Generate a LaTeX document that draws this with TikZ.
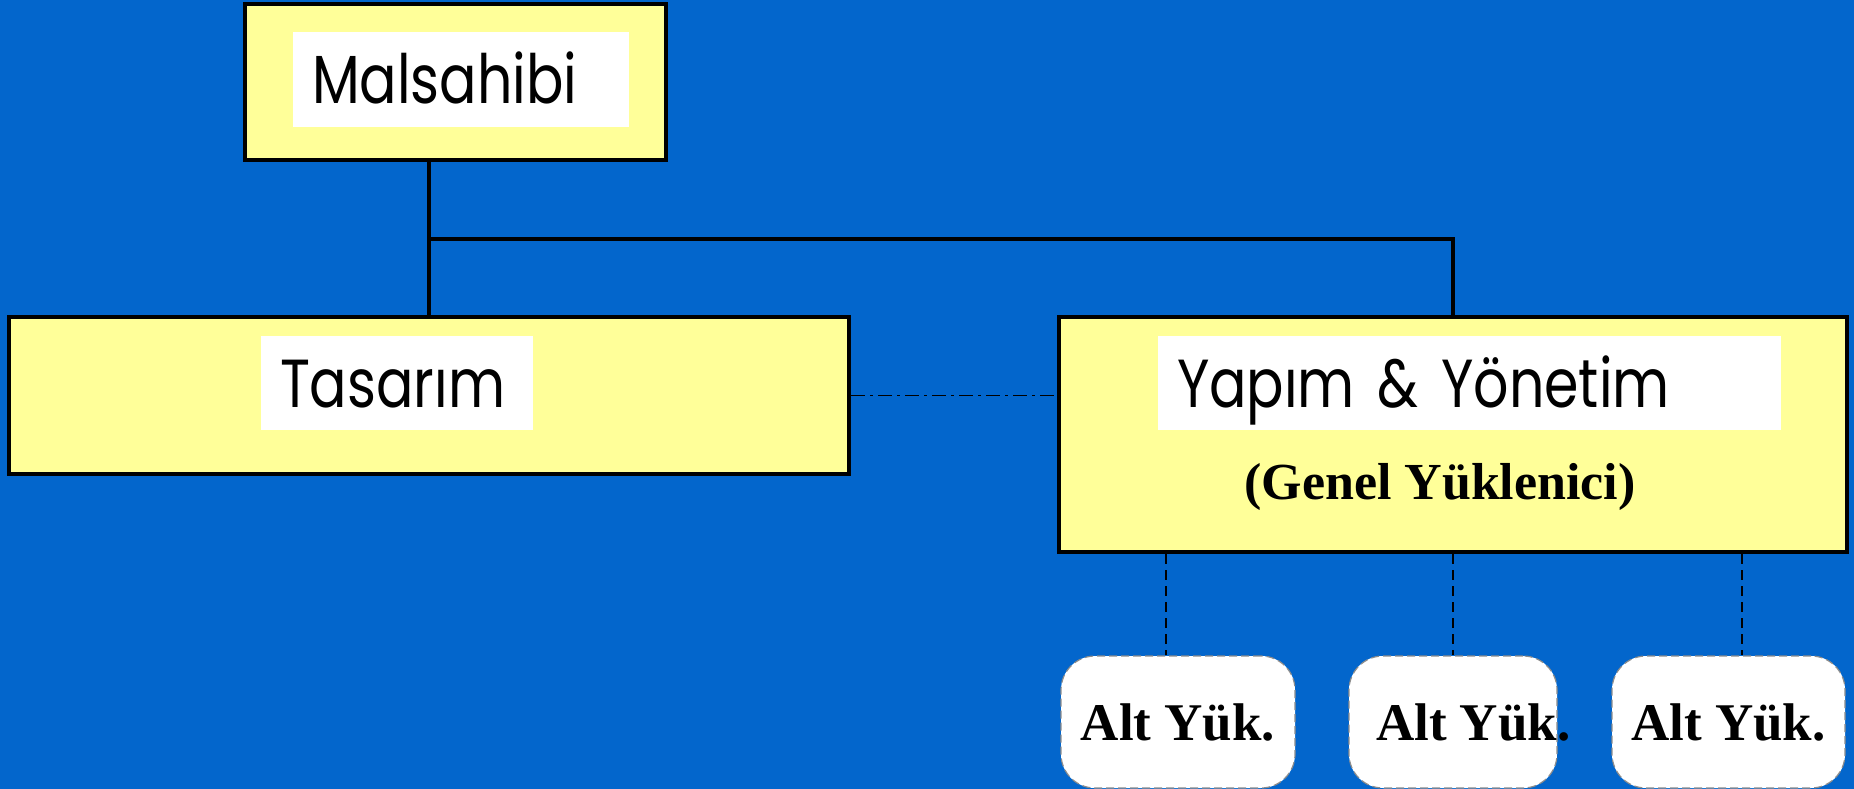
\documentclass[tikz,border=0pt]{standalone}
\usepackage{fontspec}
\setmainfont{Liberation Serif}
\newfontfamily\tagfont[FakeStretch=0.815]{Poppins}
\usetikzlibrary{positioning}
\definecolor{bgblue}{RGB}{3,102,204}
\definecolor{boxyellow}{RGB}{255,255,153}

\begin{document}
\begin{tikzpicture}[x=1pt,y=-1pt,
  unit/.style={draw,line width=4.5pt,fill=boxyellow,inner sep=0pt},
  nametag/.style={fill=white,inner xsep=19pt,inner ysep=0pt,text height=49pt,text depth=0pt,
    align=left,font=\tagfont\fontsize{68}{80}\selectfont},
  subunit/.style={fill=white,draw=black!45,line width=1.2pt,dash pattern=on 8pt off 4pt,
    rounded corners=34pt,minimum height=132pt,inner sep=0pt,text height=36pt,text depth=0pt,
    font=\bfseries\fontsize{53}{60}\selectfont},
  link/.style={line width=4.3pt},
  sublink/.style={line width=1.5pt,dash pattern=on 10pt off 6pt}]
  \fill[bgblue,use as bounding box] (0,0) rectangle (1854,789);

  \node[unit,minimum width=421pt,minimum height=156pt] (owner) at (455.5,82) {};
  \node[nametag,text width=298pt,minimum height=95pt] (ownertag) at (461,79.5) {Malsahibi};
  \node[unit,minimum width=840pt,minimum height=157pt] (design) at (429,395.5) {};
  \node[nametag,text width=234pt,minimum height=94pt] (designtag) at (397,383) {Tasarım};
  \node[unit,minimum width=788pt,minimum height=235pt] (build) at (1453,434.5) {};
  \node[nametag,text width=585pt,minimum height=94pt] (buildtag) at (1469.5,383) {Yapım \& Yönetim};
  \node[font=\bfseries\fontsize{52}{60}\selectfont] (buildrole) at (1440,487) {(Genel Yüklenici)};

  \node[subunit,minimum width=234pt] (sub1) at (1178,722) {Alt Yük.};
  \node[subunit,minimum width=208pt] (sub2) at (1453,722) {\makebox[208pt][l]{\hspace*{27pt}Alt Yük.}};
  \node[subunit,minimum width=233pt] (sub3) at (1728.5,722) {Alt Yük.};

  \coordinate (split) at (429,239);
  \draw[link] (design.north |- owner.south) -- (design.north);
  \draw[link] (split) -| (build.north);
  \draw[line width=1.5pt,dash pattern=on 14pt off 5pt on 3pt off 5pt]
    (design.east) -- (design.east -| build.west);
  \draw[sublink] ([xshift=-12pt]sub1.north |- build.south) -- ([xshift=-12pt]sub1.north);
  \draw[sublink] (sub2.north |- build.south) -- (sub2.north);
  \draw[sublink] ([xshift=13.5pt]sub3.north |- build.south) -- ([xshift=13.5pt]sub3.north);
\end{tikzpicture}
\end{document}
